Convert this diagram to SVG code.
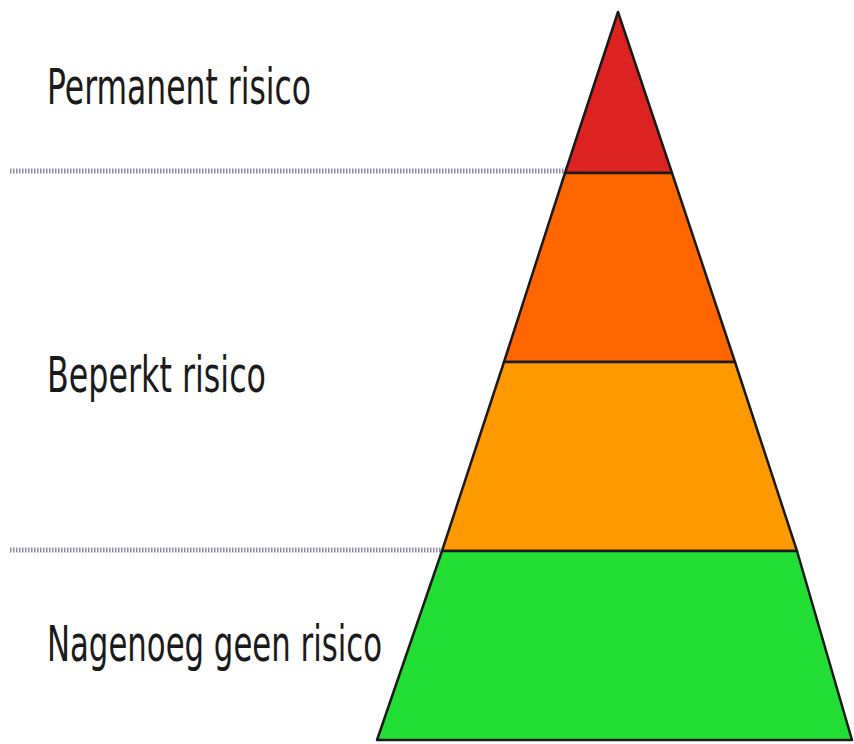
<svg xmlns="http://www.w3.org/2000/svg" width="854" height="744" viewBox="0 0 854 744">
<style>
.lbl{font-family:"DejaVu Sans","Liberation Sans",sans-serif;font-size:49px;fill:#1a1a1a}
.band{stroke:#1a1a1a;stroke-width:2.5;stroke-linejoin:round}
.sep{stroke:#8a8aaa;stroke-width:5;stroke-dasharray:1.5 1.5;fill:none}
</style>
<rect width="854" height="744" fill="#fff"/>
<g id="connectors">
<line class="sep" x1="10" y1="171" x2="566" y2="171"/>
<line class="sep" x1="10" y1="550" x2="442" y2="550"/>
</g>
<g id="band-red"><polygon class="band" fill="#dd2222" points="618,12 672,173 565,173"/></g>
<g id="band-orange"><polygon class="band" fill="#ff6600" points="565,173 672,173 735,362 504,362"/></g>
<g id="band-lightorange"><polygon class="band" fill="#ff9900" points="504,362 735,362 797,551 442,551"/></g>
<g id="band-green"><polygon class="band" fill="#22dd33" points="442,551 797,551 852,740 377,740"/></g>
<g id="label-permanent"><text class="lbl" x="47" y="104" textLength="264" lengthAdjust="spacingAndGlyphs">Permanent risico</text></g>
<g id="label-beperkt"><text class="lbl" x="47" y="392" textLength="219" lengthAdjust="spacingAndGlyphs">Beperkt risico</text></g>
<g id="label-nagenoeg"><text class="lbl" x="47" y="661" textLength="335" lengthAdjust="spacingAndGlyphs">Nagenoeg geen risico</text></g>
</svg>
